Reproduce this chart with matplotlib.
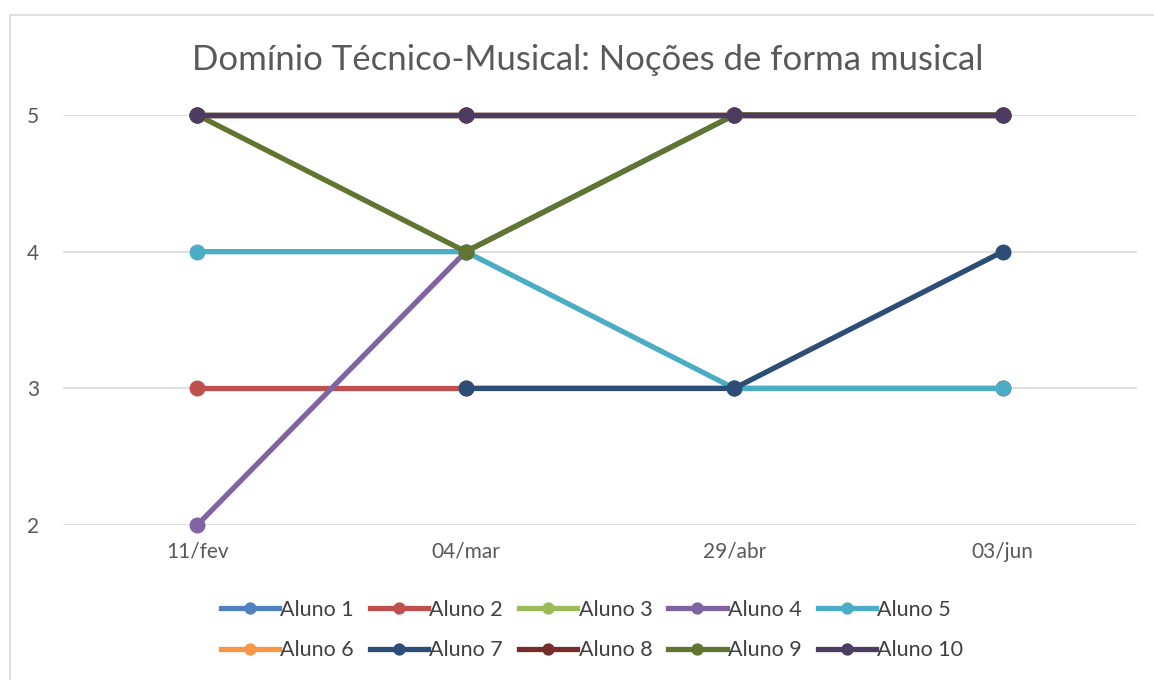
import numpy as np
import matplotlib.pyplot as plt
from matplotlib.patches import Rectangle

plt.rcParams['font.family'] = ['Lato', 'DejaVu Sans']

datas = ["11/fev", "04/mar", "29/abr", "03/jun"]
alunos = ["Aluno 1", "Aluno 2", "Aluno 3", "Aluno 4", "Aluno 5",
          "Aluno 6", "Aluno 7", "Aluno 8", "Aluno 9", "Aluno 10"]

aluno1 = [5, 5, 5, 5]
aluno2 = [3, 3, 3, 3]
aluno3 = [5, 5, 5, 5]
aluno4 = [2, 4, 5, 5]
aluno5 = [4, 4, 3, 3]
aluno6 = [5, 5, 5, 5]
aluno7 = [np.nan, 3, 3, 4]
aluno8 = [5, 5, 5, 5]
aluno9 = [5, 4, 5, 5]
aluno10 = [5, 5, 5, 5]

valores = [aluno1, aluno2, aluno3, aluno4, aluno5,
           aluno6, aluno7, aluno8, aluno9, aluno10]
cores = ["#4F81BD", "#C0504D", "#9BBB59", "#8064A2", "#4BACC6",
         "#F79646", "#2C4D75", "#772C2A", "#5F7530", "#4D3B62"]

fig = plt.figure(figsize=(11.54, 6.8), dpi=100)
ax = fig.add_axes([63/1154, 1 - 525/680, (1137 - 63)/1154, (525 - 115)/680])

x = np.arange(len(datas))
linhas = []
for nome, v, c in zip(alunos, valores, cores):
    l, = ax.plot(x, v, color=c, lw=3.8, marker="o", ms=10.5, label=nome,
                 clip_on=False)
    linhas.append(l)

ax.set_xlim(-0.5, 3.5)
ax.set_ylim(2, 5)
ax.set_yticks([2, 3, 4, 5])
ax.set_xticks(x)
ax.set_xticklabels(datas)
ax.grid(axis="y", color="#d9d9d9", lw=1.2)
ax.set_axisbelow(True)
for s in ax.spines.values():
    s.set_visible(False)
ax.tick_params(length=0, labelsize=15, labelcolor="#595959")
ax.tick_params(axis="y", pad=17)
ax.tick_params(axis="x", pad=12)

fig.text(588/1154, 1 - 60/680, "Domínio Técnico-Musical: Noções de forma musical",
         ha="center", va="center", fontsize=25, color="#595959")

# legenda por linhas (5 colunas), como no Excel
ordem = [0, 5, 1, 6, 2, 7, 3, 8, 4, 9]
leg = fig.legend([linhas[i] for i in ordem], [alunos[i] for i in ordem],
                 loc="center", bbox_to_anchor=(592/1154, 1 - 630/680), ncol=5,
                 frameon=False, fontsize=15.5, handlelength=2.7, handletextpad=0.05,
                 columnspacing=0.75, labelspacing=0.95, markerscale=0.75)
for t in leg.get_texts():
    t.set_color("#404040")

fig.patches.append(Rectangle((10/1154, -0.1), 1.2, 1 - 15/680 + 0.1,
                             transform=fig.transFigure, fill=False,
                             edgecolor="#d9d9d9", lw=1.2))

fig.savefig("out.png", dpi=100, facecolor="white")
